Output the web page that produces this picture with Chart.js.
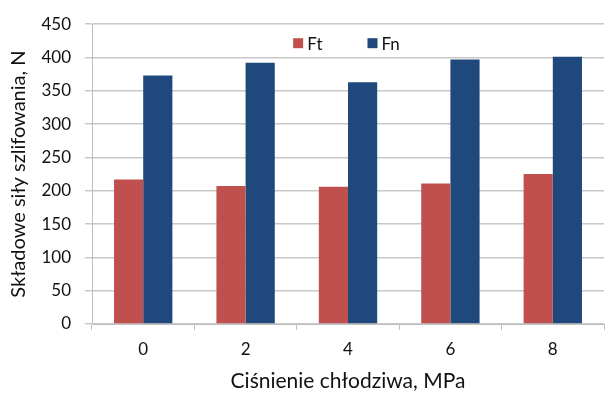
<!DOCTYPE html>
<html><head><meta charset="utf-8">
<script src="https://cdn.jsdelivr.net/npm/chart.js@4/dist/chart.umd.min.js"></script>
<style>html,body{margin:0;padding:0;background:#fff}#w{width:608px;height:394px}</style>
</head><body><div id="w"><canvas id="c" width="608" height="394"></canvas></div>
<script>
const categories = ['0', '2', '4', '6', '8'];
const ftValues = [217, 207, 206, 211, 225];
const fnValues = [373, 392, 363, 397, 401];
const seriesLabels = ['Ft', 'Fn'];
const yTitle = 'Składowe siły szlifowania, N';
const xTitle = 'Ciśnienie chłodziwa, MPa';

const FONT = 'Lato, "Open Sans", sans-serif';

const innerLegend = {
  id: 'innerLegend',
  afterDraw(chart) {
    const ctx = chart.ctx, ca = chart.chartArea;
    const cx = (ca.left + ca.right) / 2 - 1.5;
    const y = ca.top + 19;
    const items = chart.data.datasets;
    ctx.save();
    ctx.font = '17px ' + FONT;
    ctx.textBaseline = 'middle';
    const gap = 45, box = 10, sp = 4;
    const widths = items.map(d => box + sp + ctx.measureText(d.label).width);
    const total = widths.reduce((a, b) => a + b, 0) + gap * (items.length - 1);
    let x = cx - total / 2;
    items.forEach((d, i) => {
      ctx.fillStyle = d.backgroundColor;
      ctx.fillRect(x, y - box / 2, box, box);
      ctx.fillStyle = '#111';
      ctx.fillText(d.label, x + box + sp, y + 1);
      x += widths[i] + gap;
    });
    ctx.restore();
  }
};

new Chart(document.getElementById('c'), {
  type: 'bar',
  data: {
    labels: categories,
    datasets: [
      { label: seriesLabels[0], data: ftValues, backgroundColor: '#C0504D', borderWidth: 0 },
      { label: seriesLabels[1], data: fnValues, backgroundColor: '#1F497D', borderWidth: 0 }
    ]
  },
  options: {
    responsive: false,
    animation: false,
    devicePixelRatio: 1,
    layout: { padding: { top: 23, right: 4, left: 0, bottom: 0 } },
    plugins: { legend: { display: false }, tooltip: { enabled: false } },
    datasets: { bar: { categoryPercentage: 0.57, barPercentage: 1.0 } },
    scales: {
      x: {
        grid: { drawOnChartArea: false, color: '#bfbfbf', tickLength: 6, offset: true },
        border: { color: '#bfbfbf', width: 1 },
        ticks: { color: '#111', font: { family: FONT, size: 17 }, padding: 9 },
        title: { display: true, text: xTitle, color: '#111', font: { family: FONT, size: 21 }, padding: { top: 3, bottom: 0 } },
        afterFit(s) { s.height = 70; }
      },
      y: {
        min: 0, max: 450,
        ticks: { stepSize: 50, color: '#111', font: { family: FONT, size: 17 }, padding: 14 },
        grid: { color: '#c8c8c8', lineWidth: 1.5, tickLength: 7 },
        border: { color: '#bfbfbf', width: 1 },
        title: { display: true, text: yTitle, color: '#111', font: { family: FONT, size: 20 }, padding: { top: 7, bottom: 0 } },
        afterFit(s) { s.width = 92; }
      }
    }
  },
  plugins: [innerLegend]
});
</script>
</body></html>
